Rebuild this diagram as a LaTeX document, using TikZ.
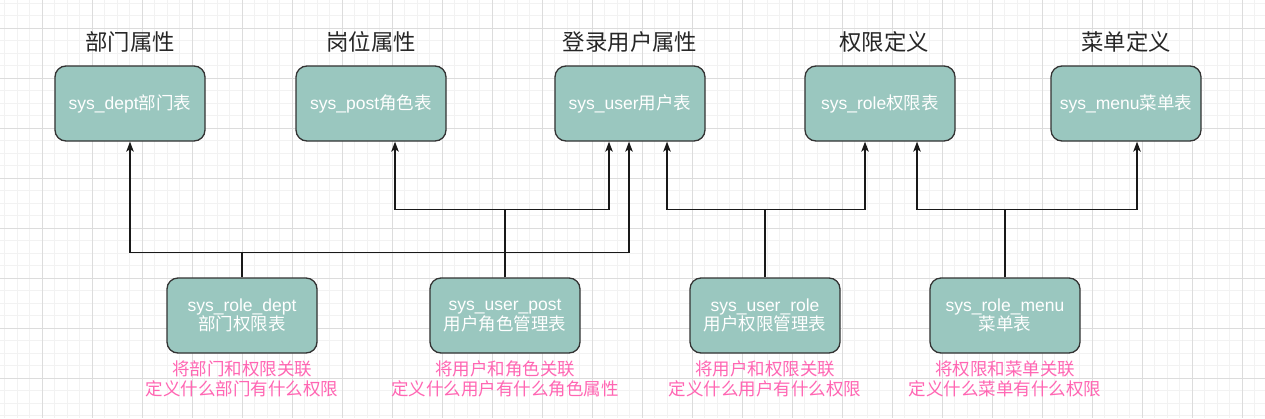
\documentclass[tikz,border=0pt]{standalone}
\usepackage{fontspec}
\setmainfont{Liberation Sans}
\newfontfamily\cjk{Noto Sans CJK SC}
\usetikzlibrary{arrows.meta}
\definecolor{boxfill}{HTML}{9AC7BF}
\definecolor{boxline}{HTML}{333333}
\definecolor{notepink}{HTML}{FF66B3}
\definecolor{gridminor}{HTML}{F2F2F2}
\definecolor{gridmajor}{HTML}{DCDCDC}
\tikzset{
  tbl/.style={draw=boxline, fill=boxfill, line width=1.3pt, rounded corners=11pt,
    minimum width=150pt, minimum height=75pt, inner sep=0pt, text=white,
    align=center, font=\fontsize{17.5}{19.5}\selectfont},
  ttl/.style={inner sep=0pt, text=black!85, font=\cjk\fontsize{22.4}{26}\selectfont},
  note/.style={inner sep=0pt, text=notepink, align=center, font=\cjk\fontsize{17.5}{19.5}\selectfont},
  conn/.style={draw=black!90, line width=1.3pt, -{Stealth[length=10pt,width=7.5pt,inset=2.5pt]}},
  gmin/.style={draw=gridminor, line width=0.8pt},
  gmaj/.style={draw=gridmajor, line width=0.8pt}
}
\begin{document}
\begin{tikzpicture}[x=1pt,y=-1pt]
\useasboundingbox[fill=white] (0,0) rectangle (1265,418);
% grid
\foreach \i in {0,...,100} \draw[gmin] ({4.5+12.5*\i},0) -- ({4.5+12.5*\i},418);
\foreach \i in {0,...,33} \draw[gmin] (0,{3+12.5*\i}) -- (1265,{3+12.5*\i});
\foreach \i in {0,...,24} \draw[gmaj] ({42+50*\i},0) -- ({42+50*\i},418);
\foreach \i in {0,...,7} \draw[gmaj] (0,{28+50*\i}) -- (1265,{28+50*\i});

% titles
\node[ttl] (t1) at (130,42) {部门属性};
\node[ttl] (t2) at (371,42) {岗位属性};
\node[ttl] (t3) at (630,42) {登录用户属性};
\node[ttl] (t4) at (884,42) {权限定义};
\node[ttl] (t5) at (1126,42) {菜单定义};

% top tables
\node[tbl] (dept) at (130,103.5) {sys\_dept{\cjk 部门表}};
\node[tbl] (post) at (371,103.5) {sys\_post{\cjk 角色表}};
\node[tbl] (user) at (630,103.5) {sys\_user{\cjk 用户表}};
\node[tbl] (role) at (880,103.5) {sys\_role{\cjk 权限表}};
\node[tbl] (menu) at (1126,103.5) {sys\_menu{\cjk 菜单表}};

% bottom tables
\node[tbl] (rd) at (242,315.5) {sys\_role\_dept\\{\cjk 部门权限表}};
\node[tbl] (up) at (505,315.5) {sys\_user\_post\\{\cjk 用户角色管理表}};
\node[tbl] (ur) at (765,315.5) {sys\_user\_role\\{\cjk 用户权限管理表}};
\node[tbl] (rm) at (1005,315.5) {sys\_role\_menu\\{\cjk 菜单表}};

% notes
\node[note] (n1) at (242,379) {将部门和权限关联\\定义什么部门有什么权限};
\node[note] (n2) at (505,379) {将用户和角色关联\\定义什么用户有什么角色属性};
\node[note] (n3) at (765,379) {将用户和权限关联\\定义什么用户有什么权限};
\node[note] (n4) at (1005,379) {将权限和菜单关联\\定义什么菜单有什么权限};

% connectors
\draw[conn] (rd.north) -- ++(0,-25) -| (dept.south);
\draw[conn] (rd.north) -- ++(0,-25) -| ([xshift=-1pt]user.south);
\draw[conn] (up.north) -- ++(0,-68) -| ([xshift=24pt]post.south);
\draw[conn] (up.north) -- ++(0,-68) -| ([xshift=-21pt]user.south);
\draw[conn] (ur.north) -- ++(0,-68) -| ([xshift=37pt]user.south);
\draw[conn] (ur.north) -- ++(0,-68) -| ([xshift=-15pt]role.south);
\draw[conn] (rm.north) -- ++(0,-68) -| ([xshift=37pt]role.south);
\draw[conn] (rm.north) -- ++(0,-68) -| ([xshift=11pt]menu.south);
\end{tikzpicture}
\end{document}
